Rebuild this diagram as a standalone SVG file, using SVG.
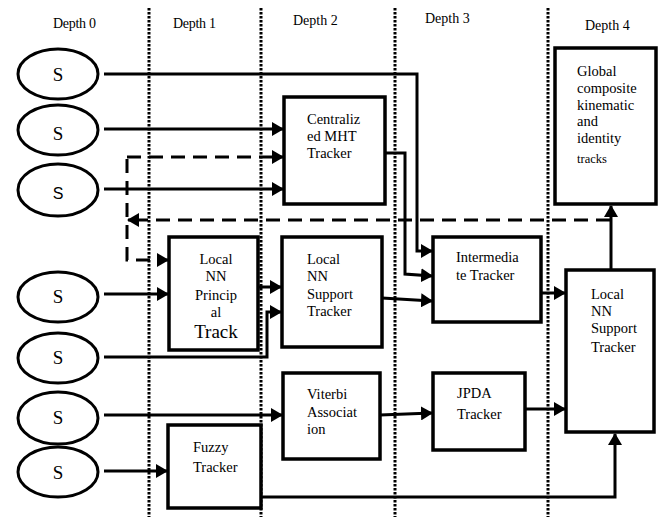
<svg xmlns="http://www.w3.org/2000/svg" width="658" height="519" viewBox="0 0 658 519">
<defs>
<marker id="ah" viewBox="0 0 12 14" refX="11" refY="7" markerWidth="12" markerHeight="14" markerUnits="userSpaceOnUse" orient="auto">
<path d="M0,0 L12,7 L0,14 z" fill="#000"/>
</marker>
</defs>
<style>
.box{fill:#fff;stroke:#000;stroke-width:3.5}
.el{fill:#fff;stroke:#000;stroke-width:3}
.c{fill:none;stroke:#000;stroke-width:3;marker-end:url(#ah)}
.d{fill:none;stroke:#000;stroke-width:3;stroke-dasharray:14 8}
.v{stroke:#000;stroke-width:3;stroke-dasharray:2.5 1.5}
</style>
<rect width="658" height="519" fill="#fff"/>
<g id="grid">
<line class="v" x1="149" y1="8" x2="149" y2="517"/>
<line class="v" x1="261" y1="8" x2="261" y2="517"/>
<line class="v" x1="395" y1="8" x2="395" y2="517"/>
<line class="v" x1="548" y1="8" x2="548" y2="517"/>
<text x="53" y="28" font-family="Liberation Serif, serif" font-size="14" letter-spacing="-0.3">Depth 0</text>
<text x="173" y="28" font-family="Liberation Serif, serif" font-size="14" letter-spacing="-0.3">Depth 1</text>
<text x="293" y="25" font-family="Liberation Serif, serif" font-size="14">Depth 2</text>
<text x="425" y="23" font-family="Liberation Serif, serif" font-size="14">Depth 3</text>
<text x="585" y="30" font-family="Liberation Serif, serif" font-size="14">Depth 4</text>
</g>
<g id="connectors">
<path class="c" d="M104,74 H417 V251 H432"/>
<path class="c" d="M104,129 H283"/>
<path class="d" d="M127,157 H272"/>
<path class="c" d="M272,157 H283"/>
<path class="c" d="M104,189 H283"/>
<path class="c" d="M385,153 H405 V274 L432,276"/>
<path class="c" d="M382,298 L432,301"/>
<path class="d" d="M610,220 H140"/>
<path class="c" d="M140,220 H128"/>
<path class="d" d="M127,159 V260 H157"/>
<path class="c" d="M157,260 H168"/>
<path class="c" d="M104,294 H168"/>
<path class="c" d="M258,287 H281"/>
<path class="c" d="M104,357 H267 V312 H281"/>
<path class="c" d="M104,415 H282"/>
<path class="c" d="M380,415 L432,413"/>
<path class="c" d="M104,471 H167"/>
<path class="c" d="M261,497 H615 V434"/>
<path class="c" d="M541,293 H565"/>
<path class="c" d="M525,409 H565"/>
<path class="c" d="M611,270 V206"/>
</g>
<g id="s1"><ellipse class="el" cx="58" cy="74" rx="40" ry="25"/><text x="58" y="81" font-family="Liberation Serif, serif" font-size="19" text-anchor="middle">S</text></g>
<g id="s2"><ellipse class="el" cx="58" cy="130" rx="40" ry="25"/><text x="58" y="140" font-family="Liberation Serif, serif" font-size="19" text-anchor="middle">S</text></g>
<g id="s3"><ellipse class="el" cx="58" cy="190" rx="40" ry="26"/><text x="58" y="199" font-family="Liberation Sans, sans-serif" font-size="16" text-anchor="middle">S</text></g>
<g id="s4"><ellipse class="el" cx="58" cy="297" rx="40" ry="25"/><text x="58" y="303" font-family="Liberation Serif, serif" font-size="19" text-anchor="middle">S</text></g>
<g id="s5"><ellipse class="el" cx="58" cy="358" rx="40" ry="25"/><text x="58" y="364" font-family="Liberation Serif, serif" font-size="19" text-anchor="middle">S</text></g>
<g id="s6"><ellipse class="el" cx="58" cy="418" rx="40" ry="26"/><text x="58" y="424" font-family="Liberation Serif, serif" font-size="19" text-anchor="middle">S</text></g>
<g id="s7"><ellipse class="el" cx="58" cy="472" rx="40" ry="25"/><text x="58" y="479" font-family="Liberation Serif, serif" font-size="19" text-anchor="middle">S</text></g>
<g id="centralized"><rect class="box" x="284" y="97" width="101" height="107"/>
<text x="307" y="124" font-family="Liberation Serif, serif" font-size="14.5">Centraliz</text>
<text x="307" y="141" font-family="Liberation Serif, serif" font-size="14.5">ed MHT</text>
<text x="307" y="158" font-family="Liberation Serif, serif" font-size="14.5">Tracker</text></g>
<g id="global"><rect class="box" x="555" y="48" width="101" height="156"/>
<text x="577" y="76" font-family="Liberation Serif, serif" font-size="14.5">Global</text>
<text x="577" y="93" font-family="Liberation Serif, serif" font-size="14.5">composite</text>
<text x="577" y="110" font-family="Liberation Serif, serif" font-size="14.5">kinematic</text>
<text x="577" y="126" font-family="Liberation Serif, serif" font-size="14.5">and</text>
<text x="577" y="143" font-family="Liberation Serif, serif" font-size="14.5">identity</text>
<text x="577" y="163" font-family="Liberation Serif, serif" font-size="12.5">tracks</text></g>
<g id="principal"><rect class="box" x="169" y="237" width="89" height="113"/>
<text x="216" y="264" font-family="Liberation Serif, serif" font-size="14.5" text-anchor="middle">Local</text>
<text x="216" y="281" font-family="Liberation Serif, serif" font-size="14.5" text-anchor="middle">NN</text>
<text x="216" y="300" font-family="Liberation Serif, serif" font-size="14.5" text-anchor="middle">Princip</text>
<text x="216" y="317" font-family="Liberation Serif, serif" font-size="14.5" text-anchor="middle">al</text>
<text x="216" y="338" font-family="Liberation Serif, serif" font-size="19" text-anchor="middle">Track</text></g>
<g id="support"><rect class="box" x="282" y="237" width="100" height="110"/>
<text x="307" y="264" font-family="Liberation Serif, serif" font-size="14.5">Local</text>
<text x="307" y="281" font-family="Liberation Serif, serif" font-size="14.5">NN</text>
<text x="307" y="299" font-family="Liberation Serif, serif" font-size="14.5">Support</text>
<text x="307" y="316" font-family="Liberation Serif, serif" font-size="14.5">Tracker</text></g>
<g id="intermediate"><rect class="box" x="433" y="237" width="108" height="85"/>
<text x="456" y="262" font-family="Liberation Serif, serif" font-size="14.5">Intermedia</text>
<text x="456" y="280" font-family="Liberation Serif, serif" font-size="14.5">te Tracker</text></g>
<g id="right-support"><rect class="box" x="566" y="270" width="88" height="162"/>
<text x="591" y="299" font-family="Liberation Serif, serif" font-size="14.5">Local</text>
<text x="591" y="316" font-family="Liberation Serif, serif" font-size="14.5">NN</text>
<text x="591" y="333" font-family="Liberation Serif, serif" font-size="14.5">Support</text>
<text x="591" y="352" font-family="Liberation Serif, serif" font-size="14.5">Tracker</text></g>
<g id="viterbi"><rect class="box" x="283" y="373" width="97" height="86"/>
<text x="307" y="399" font-family="Liberation Serif, serif" font-size="14.5">Viterbi</text>
<text x="307" y="417" font-family="Liberation Serif, serif" font-size="14.5">Associat</text>
<text x="307" y="434" font-family="Liberation Serif, serif" font-size="14.5">ion</text></g>
<g id="jpda"><rect class="box" x="433" y="373" width="92" height="77"/>
<text x="457" y="398" font-family="Liberation Serif, serif" font-size="14.5">JPDA</text>
<text x="457" y="419" font-family="Liberation Serif, serif" font-size="14.5">Tracker</text></g>
<g id="fuzzy"><rect class="box" x="168" y="425" width="93" height="83"/>
<text x="193" y="452" font-family="Liberation Serif, serif" font-size="14.5">Fuzzy</text>
<text x="193" y="472" font-family="Liberation Serif, serif" font-size="14.5">Tracker</text></g>
</svg>
